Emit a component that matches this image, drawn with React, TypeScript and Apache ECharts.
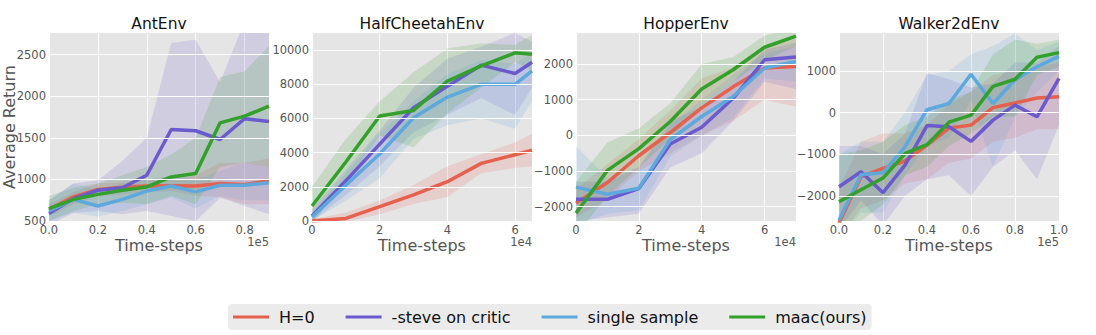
import React, { useEffect, useRef } from "react";
import * as echarts from "echarts";

const FONT = "DejaVu Sans";

const methods = ["H=0", "-steve on critic", "single sample", "maac(ours)"];
const colors = ["#E5604D", "#6A5ACD", "#5DA8DC", "#33A02C"];
const envTitles = ["AntEnv", "HalfCheetahEnv", "HopperEnv", "Walker2dEnv"];
const exponents = ["1e5", "1e4", "1e4", "1e5"];

// ---- AntEnv (x in 1e5) ----
const antSteps = [0, 0.1, 0.2, 0.3, 0.4, 0.5, 0.6, 0.7, 0.8, 0.9];
const antH0 = [640, 790, 880, 905, 920, 925, 920, 950, 940, 985];
const antH0Lo = [560, 700, 800, 820, 850, 860, 800, 790, 700, 700];
const antH0Hi = [700, 850, 950, 970, 1000, 1000, 1050, 1200, 1200, 1250];
const antSteve = [590, 770, 870, 900, 1050, 1600, 1585, 1480, 1730, 1695];
const antSteveLo = [450, 600, 620, 580, 620, 560, 500, 780, 680, 580];
const antSteveHi = [750, 950, 990, 1220, 1500, 2640, 2680, 2170, 2900, 3000];
const antSingle = [620, 760, 680, 760, 860, 920, 850, 930, 930, 960];
const antSingleLo = [500, 600, 550, 620, 700, 780, 650, 800, 750, 750];
const antSingleHi = [750, 950, 880, 950, 1000, 1050, 1000, 1100, 1200, 1150];
const antMaac = [650, 760, 820, 870, 910, 1030, 1070, 1680, 1760, 1880];
const antMaacLo = [500, 620, 700, 720, 700, 800, 700, 1150, 1200, 1150];
const antMaacHi = [800, 900, 950, 1050, 1150, 1300, 1500, 2230, 2300, 2600];

// ---- HalfCheetahEnv (x in 1e4) ----
const hcSteps = [0, 1, 2, 3, 4, 5, 6, 6.5];
const hcH0 = [0, 150, 840, 1530, 2300, 3370, 3880, 4140];
const hcH0Lo = [-100, -50, 400, 1000, 1400, 2800, 3100, 3200];
const hcH0Hi = [100, 500, 1200, 2100, 3200, 3900, 4600, 5100];
const hcSteve = [290, 2350, 4500, 6630, 7880, 9120, 8630, 9290];
const hcSteveLo = [0, 1500, 3200, 5200, 6200, 7200, 6200, 7800];
const hcSteveHi = [700, 3000, 5300, 7800, 9500, 10200, 11000, 10500];
const hcSingle = [235, 2100, 3920, 6040, 7250, 8000, 8000, 8780];
const hcSingleLo = [0, 1200, 2500, 4800, 5600, 6000, 5400, 7000];
const hcSingleHi = [500, 2800, 5100, 7000, 8600, 9400, 9200, 9800];
const hcMaac = [880, 3450, 6140, 6470, 8180, 9080, 9840, 9750];
const hcMaacLo = [-100, 2200, 5000, 4300, 6300, 7800, 9300, 8800];
const hcMaacHi = [2000, 4800, 7000, 8700, 10100, 10400, 10300, 10900];

// ---- HopperEnv (x in 1e4) ----
const hopSteps = [0, 1, 2, 3, 4, 5, 6, 7];
const hopH0 = [-1900, -1320, -570, 80, 770, 1360, 1890, 1930];
const hopH0Lo = [-2300, -1800, -1000, -500, 0, 400, 1000, 800];
const hopH0Hi = [-1500, -800, -100, 700, 1600, 1900, 2500, 2700];
const hopSteve = [-1790, -1790, -1490, -240, 230, 1040, 2120, 2200];
const hopSteveLo = [-2400, -2300, -2200, -900, -500, 400, 1500, 1300];
const hopSteveHi = [-1300, -1300, -900, 400, 800, 1500, 2400, 2600];
const hopSingle = [-1450, -1650, -1480, -120, 530, 1090, 1890, 2070];
const hopSingleLo = [-2500, -2200, -2100, -600, 0, 500, 1600, 1500];
const hopSingleHi = [-300, -1200, -900, 300, 1000, 1700, 2300, 2500];
const hopMaac = [-2180, -980, -370, 390, 1300, 1840, 2470, 2780];
const hopMaacLo = [-2800, -1700, -900, -100, 800, 1500, 2100, 2500];
const hopMaacHi = [-1300, -200, 200, 900, 2000, 2200, 2800, 3000];

// ---- Walker2dEnv (x in 1e5) ----
const walkSteps = [0, 0.1, 0.2, 0.3, 0.4, 0.5, 0.6, 0.7, 0.8, 0.9, 1.0];
const walkH0 = [-2650, -1540, -1340, -1160, -780, -370, -300, 120, 230, 350, 380];
const walkH0Lo = [-3000, -2300, -2100, -1700, -1600, -1200, -1100, -700, -600, -400, -400];
const walkH0Hi = [-1800, -700, -500, -500, -300, 200, 500, 900, 1000, 1100, 1200];
const walkSteve = [-1780, -1420, -1920, -1260, -310, -340, -690, -180, 180, -100, 820];
const walkSteveLo = [-2800, -2100, -2700, -2000, -1600, -1500, -2000, -1300, -900, -1600, -300];
const walkSteveHi = [-800, -800, -1000, -500, 950, 800, 600, 700, 1200, 1200, 1600];
const walkSingle = [-2580, -1490, -1440, -820, 70, 220, 920, 220, 790, 1100, 1350];
const walkSingleLo = [-3000, -2400, -2400, -1500, -800, -600, 300, -1300, -100, 500, 1000];
const walkSingleHi = [-1000, -700, -700, 0, 900, 1000, 1400, 1600, 1900, 1500, 1700];
const walkMaac = [-2140, -1850, -1570, -980, -770, -230, -60, 630, 800, 1330, 1440];
const walkMaacLo = [-3000, -2600, -2200, -1500, -1300, -800, -500, -100, -100, 900, 1100];
const walkMaacHi = [-1000, -900, -700, -300, -100, 300, 500, 1400, 1750, 1650, 1750];

// axis settings
const xMaxes = [0.9, 6.5, 7, 1.0];
const xSteps = [0.2, 2, 2, 0.2];
const xDecimals = [1, 0, 0, 1];
const yMins = [500, 0, -2400, -2600];
const yMaxes = [2760, 11000, 2870, 1910];
const yAxisSteps = [500, 2000, 200, 200];
const yLabelSteps = [500, 2000, 1000, 1000];

const panelData = [
  { x: antSteps, mean: [antH0, antSteve, antSingle, antMaac], lo: [antH0Lo, antSteveLo, antSingleLo, antMaacLo], hi: [antH0Hi, antSteveHi, antSingleHi, antMaacHi] },
  { x: hcSteps, mean: [hcH0, hcSteve, hcSingle, hcMaac], lo: [hcH0Lo, hcSteveLo, hcSingleLo, hcMaacLo], hi: [hcH0Hi, hcSteveHi, hcSingleHi, hcMaacHi] },
  { x: hopSteps, mean: [hopH0, hopSteve, hopSingle, hopMaac], lo: [hopH0Lo, hopSteveLo, hopSingleLo, hopMaacLo], hi: [hopH0Hi, hopSteveHi, hopSingleHi, hopMaacHi] },
  { x: walkSteps, mean: [walkH0, walkSteve, walkSingle, walkMaac], lo: [walkH0Lo, walkSteveLo, walkSingleLo, walkMaacLo], hi: [walkH0Hi, walkSteveHi, walkSingleHi, walkMaacHi] },
];

const GRID_LEFTS = [49, 312, 576, 839];
const GRID_TOP = 33;
const GRID_W = 220;
const GRID_H = 188;

const isMult = (v: number, s: number) => Math.abs(v / s - Math.round(v / s)) < 1e-6;
const fmtNum = (v: number, d: number) => (v < 0 ? "\u2212" + Math.abs(v).toFixed(d) : v.toFixed(d));

function buildOption() {
  const grid: any[] = [];
  const xAxis: any[] = [];
  const yAxis: any[] = [];
  const series: any[] = [];
  const graphic: any[] = [];

  panelData.forEach((p, i) => {
    const left = GRID_LEFTS[i];
    grid.push({ left, top: GRID_TOP, width: GRID_W, height: GRID_H, show: true, backgroundColor: "#E5E5E5", borderWidth: 0, containLabel: false });
    xAxis.push({
      type: "value",
      gridIndex: i,
      min: 0,
      max: xMaxes[i],
      interval: xSteps[i],
      axisLine: { show: false },
      axisTick: { show: false },
      splitLine: { show: true, lineStyle: { color: "#FFFFFF", width: 1 } },
      axisLabel: {
        margin: 3,
        color: "#555555",
        fontSize: 11.5,
        fontFamily: FONT,
        formatter: (v: number) => (isMult(v, xSteps[i]) ? fmtNum(v, xDecimals[i]) : ""),
      },
      name: "Time-steps",
      nameLocation: "middle",
      nameGap: 16,
      nameMoveOverlap: false,
      nameTextStyle: { color: "#555555", fontSize: 16, fontFamily: FONT },
    });
    yAxis.push({
      type: "value",
      gridIndex: i,
      min: yMins[i],
      max: yMaxes[i],
      interval: yAxisSteps[i],
      axisLine: { show: false },
      axisTick: { show: false },
      splitLine: { show: false },
      axisLabel: {
        margin: 3,
        color: "#555555",
        fontSize: 11.5,
        fontFamily: FONT,
        formatter: (v: number) => (isMult(v, yLabelSteps[i]) && v < yMaxes[i] ? fmtNum(v, 0) : ""),
      },
      ...(i === 0
        ? {
            name: "Average Return",
            nameLocation: "middle",
            nameGap: 32,
            nameMoveOverlap: false,
            nameTextStyle: { color: "#555555", fontSize: 16, fontFamily: FONT },
          }
        : {}),
    });

    // horizontal grid lines at labelled values, hosted by an invisible line series
    const gridVals: number[] = [];
    for (let v = Math.ceil(yMins[i] / yLabelSteps[i]) * yLabelSteps[i]; v < yMaxes[i]; v += yLabelSteps[i]) gridVals.push(v);
    series.push({
      type: "line",
      name: `grid_${i}`,
      xAxisIndex: i,
      yAxisIndex: i,
      data: p.x.map((xx, k) => [xx, p.mean[0][k]]),
      symbol: "none",
      showSymbol: false,
      lineStyle: { opacity: 0, width: 0 },
      silent: true,
      z: 0,
      markLine: {
        silent: true,
        symbol: ["none", "none"],
        label: { show: false },
        lineStyle: { color: "#FFFFFF", width: 1, type: "solid" },
        emphasis: { disabled: true },
        data: gridVals.map((v) => ({ yAxis: v })),
      },
    });

    // bands (custom polygons)
    p.mean.forEach((_, j) => {
      const xs = p.x;
      const lo = p.lo[j];
      const hi = p.hi[j];
      series.push({
        type: "custom",
        name: `band_${i}_${j}`,
        xAxisIndex: i,
        yAxisIndex: i,
        coordinateSystem: "cartesian2d",
        clip: true,
        silent: true,
        z: 1,
        data: xs.map((xx, k) => [xx, lo[k], hi[k]]),
        encode: { x: 0, y: [1, 2] },
        renderItem: (params: any, api: any) => {
          if (params.dataIndex !== 0) return null;
          const upper = xs.map((xx, k) => api.coord([xx, hi[k]]));
          const lower = xs.map((xx, k) => api.coord([xx, lo[k]])).reverse();
          const cs = params.coordSys;
          return {
            type: "polygon",
            shape: { points: upper.concat(lower) },
            style: { fill: colors[j], opacity: 0.17 },
            clipPath: { type: "rect", shape: { x: cs.x, y: cs.y, width: cs.width, height: cs.height } },
          };
        },
      });
    });
    // mean lines
    p.mean.forEach((m, j) => {
      series.push({
        type: "line",
        name: methods[j],
        xAxisIndex: i,
        yAxisIndex: i,
        data: p.x.map((xx, k) => [xx, m[k]]),
        symbol: "none",
        showSymbol: false,
        lineStyle: { color: colors[j], width: 3.5 },
        itemStyle: { color: colors[j] },
        silent: true,
        z: 3,
      });
    });

    graphic.push({
      type: "text",
      x: left + GRID_W / 2,
      y: 24,
      style: { text: envTitles[i], align: "center", verticalAlign: "middle", fontSize: 15.5, fontFamily: FONT, fill: "#111111" },
    });
    graphic.push({
      type: "text",
      x: left + GRID_W,
      y: 242,
      style: { text: exponents[i], align: "right", verticalAlign: "middle", fontSize: 11.5, fontFamily: FONT, fill: "#555555" },
    });
  });

  return {
    animation: false,
    backgroundColor: "#FFFFFF",
    grid,
    xAxis,
    yAxis,
    series,
    graphic,
    legend: {
      left: 228,
      top: 304,
      padding: [5, 5, 5, 5],
      itemGap: 31,
      itemWidth: 36,
      itemHeight: 3,
      icon: "rect",
      backgroundColor: "#EBEBEB",
      borderRadius: 4,
      selectedMode: false,
      textStyle: { color: "#111111", fontSize: 16, fontFamily: FONT, padding: [0, 0, 0, 5] },
      data: methods.map((m, j) => ({ name: m, itemStyle: { color: colors[j] } })),
    },
  };
}

export default function App() {
  const ref = useRef<HTMLDivElement>(null);
  useEffect(() => {
    if (!ref.current) return;
    const chart = echarts.init(ref.current, undefined, { renderer: "svg" });
    chart.setOption(buildOption() as any);
    return () => chart.dispose();
  }, []);
  return <div ref={ref} style={{ position: "absolute", left: 0, top: 0, width: 1096, height: 335 }} />;
}
